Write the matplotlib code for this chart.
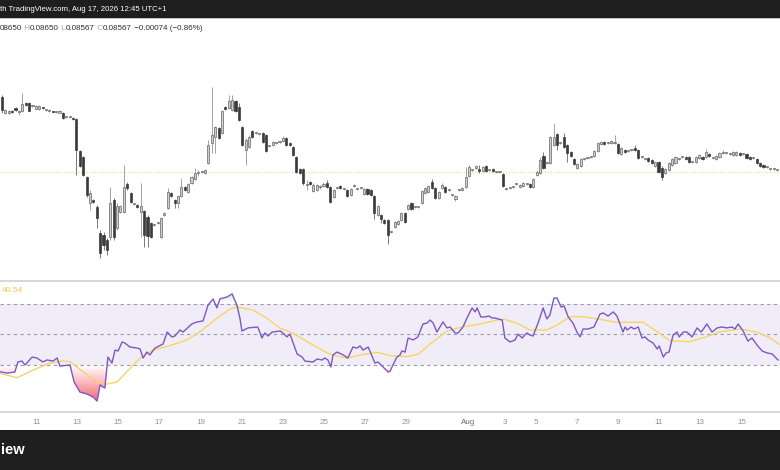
import numpy as np
import matplotlib.pyplot as plt
from matplotlib.patches import Rectangle
from matplotlib.path import Path

W, H = 780, 470

# 4h candles from left to right (price axis is cropped away)
opens = [
    0.0932, 0.0916, 0.0916, 0.0918, 0.0921, 0.0917, 0.0918, 0.0926, 0.0926, 0.0923,
    0.0920, 0.0920, 0.0922, 0.0919, 0.0918, 0.0918, 0.0917, 0.0916, 0.0916, 0.0912,
    0.0912, 0.0911, 0.0910, 0.0878, 0.0872, 0.0852, 0.0826, 0.0829, 0.0822, 0.0796,
    0.0794, 0.0789, 0.0792, 0.0829, 0.0801, 0.0817, 0.0817, 0.0845, 0.0836, 0.0825,
    0.0824, 0.0817, 0.0818, 0.0812, 0.0806, 0.0804, 0.0806, 0.0792, 0.0814, 0.0821,
    0.0836, 0.0829, 0.0826, 0.0833, 0.0842, 0.0837, 0.0846, 0.0850, 0.0856, 0.0857,
    0.0856, 0.0866, 0.0886, 0.0892, 0.0901, 0.0896, 0.0922, 0.0921, 0.0919, 0.0928,
    0.0922, 0.0902, 0.0879, 0.0882, 0.0898, 0.0896, 0.0895, 0.0896, 0.0894, 0.0883,
    0.0884, 0.0886, 0.0887, 0.0888, 0.0891, 0.0886, 0.0882, 0.0872, 0.0860, 0.0860,
    0.0844, 0.0847, 0.0838, 0.0839, 0.0842, 0.0843, 0.0846, 0.0842, 0.0832, 0.0841,
    0.0843, 0.0840, 0.0839, 0.0834, 0.0843, 0.0840, 0.0841, 0.0835, 0.0840, 0.0839,
    0.0833, 0.0814, 0.0814, 0.0809, 0.0809, 0.0797, 0.0802, 0.0805, 0.0809, 0.0816,
    0.0820, 0.0826, 0.0822, 0.0822, 0.0826, 0.0836, 0.0837, 0.0847, 0.0841, 0.0831,
    0.0841, 0.0842, 0.0839, 0.0834, 0.0830, 0.0839, 0.0839, 0.0842, 0.0853, 0.0859,
    0.0861, 0.0860, 0.0858, 0.0863, 0.0859, 0.0860, 0.0857, 0.0857, 0.0855, 0.0840,
    0.0841, 0.0842, 0.0845, 0.0842, 0.0843, 0.0845, 0.0845, 0.0842, 0.0854, 0.0856,
    0.0873, 0.0866, 0.0866, 0.0884, 0.0895, 0.0886, 0.0892, 0.0884, 0.0877, 0.0870,
    0.0861, 0.0863, 0.0870, 0.0871, 0.0872, 0.0873, 0.0878, 0.0885, 0.0887, 0.0886,
    0.0886, 0.0886, 0.0885, 0.0875, 0.0879, 0.0878, 0.0879, 0.0881, 0.0879, 0.0872,
    0.0870, 0.0871, 0.0869, 0.0863, 0.0867, 0.0861, 0.0856, 0.0859, 0.0864, 0.0866,
    0.0870, 0.0872, 0.0872, 0.0872, 0.0867, 0.0867, 0.0871, 0.0872, 0.0872, 0.0875,
    0.0871, 0.0870, 0.0872, 0.0876, 0.0876, 0.0875, 0.0874, 0.0874, 0.0876, 0.0875,
    0.0875, 0.0872, 0.0871, 0.0870, 0.0866, 0.0864, 0.0862, 0.0860, 0.0860, 0.0859,
]
highs = [
    0.0934, 0.0920, 0.0919, 0.0919, 0.0922, 0.0919, 0.0936, 0.0927, 0.0927, 0.0924,
    0.0924, 0.0924, 0.0922, 0.0920, 0.0920, 0.0918, 0.0918, 0.0919, 0.0917, 0.0913,
    0.0913, 0.0912, 0.0911, 0.0879, 0.0873, 0.0853, 0.0839, 0.0830, 0.0824, 0.0799,
    0.0797, 0.0791, 0.0842, 0.0831, 0.0826, 0.0824, 0.0864, 0.0847, 0.0837, 0.0826,
    0.0825, 0.0846, 0.0819, 0.0814, 0.0807, 0.0805, 0.0807, 0.0812, 0.0817, 0.0841,
    0.0837, 0.0830, 0.0834, 0.0851, 0.0843, 0.0846, 0.0853, 0.0861, 0.0859, 0.0858,
    0.0860, 0.0889, 0.0942, 0.0903, 0.0902, 0.0919, 0.0923, 0.0934, 0.0934, 0.0929,
    0.0926, 0.0903, 0.0891, 0.0894, 0.0899, 0.0897, 0.0896, 0.0897, 0.0895, 0.0884,
    0.0888, 0.0887, 0.0888, 0.0893, 0.0892, 0.0887, 0.0883, 0.0873, 0.0861, 0.0861,
    0.0849, 0.0848, 0.0846, 0.0845, 0.0844, 0.0847, 0.0849, 0.0843, 0.0840, 0.0842,
    0.0844, 0.0841, 0.0840, 0.0841, 0.0845, 0.0841, 0.0842, 0.0841, 0.0841, 0.0840,
    0.0834, 0.0824, 0.0815, 0.0810, 0.0810, 0.0798, 0.0808, 0.0809, 0.0817, 0.0817,
    0.0825, 0.0827, 0.0823, 0.0823, 0.0839, 0.0842, 0.0844, 0.0850, 0.0842, 0.0838,
    0.0846, 0.0843, 0.0840, 0.0835, 0.0834, 0.0840, 0.0842, 0.0862, 0.0864, 0.0860,
    0.0864, 0.0864, 0.0863, 0.0864, 0.0860, 0.0861, 0.0858, 0.0858, 0.0856, 0.0841,
    0.0842, 0.0843, 0.0846, 0.0845, 0.0847, 0.0846, 0.0846, 0.0851, 0.0859, 0.0872,
    0.0877, 0.0867, 0.0893, 0.0906, 0.0896, 0.0887, 0.0896, 0.0885, 0.0878, 0.0871,
    0.0866, 0.0871, 0.0871, 0.0872, 0.0873, 0.0879, 0.0887, 0.0888, 0.0888, 0.0887,
    0.0889, 0.0894, 0.0886, 0.0882, 0.0880, 0.0879, 0.0880, 0.0884, 0.0880, 0.0873,
    0.0871, 0.0872, 0.0870, 0.0868, 0.0868, 0.0863, 0.0861, 0.0867, 0.0871, 0.0873,
    0.0871, 0.0873, 0.0873, 0.0873, 0.0868, 0.0873, 0.0875, 0.0873, 0.0880, 0.0876,
    0.0872, 0.0874, 0.0877, 0.0879, 0.0877, 0.0876, 0.0878, 0.0878, 0.0877, 0.0876,
    0.0876, 0.0873, 0.0872, 0.0871, 0.0867, 0.0865, 0.0863, 0.0861, 0.0861, 0.0860,
]
lows = [
    0.0916, 0.0915, 0.0915, 0.0916, 0.0918, 0.0914, 0.0917, 0.0923, 0.0918, 0.0922,
    0.0920, 0.0919, 0.0920, 0.0918, 0.0917, 0.0917, 0.0916, 0.0916, 0.0910, 0.0911,
    0.0911, 0.0909, 0.0854, 0.0862, 0.0853, 0.0832, 0.0819, 0.0826, 0.0801, 0.0771,
    0.0779, 0.0774, 0.0789, 0.0789, 0.0799, 0.0816, 0.0816, 0.0839, 0.0826, 0.0824,
    0.0821, 0.0792, 0.0782, 0.0782, 0.0791, 0.0803, 0.0805, 0.0791, 0.0813, 0.0820,
    0.0832, 0.0821, 0.0821, 0.0832, 0.0838, 0.0836, 0.0845, 0.0849, 0.0853, 0.0856,
    0.0855, 0.0865, 0.0876, 0.0876, 0.0890, 0.0895, 0.0919, 0.0920, 0.0918, 0.0917,
    0.0908, 0.0883, 0.0864, 0.0881, 0.0891, 0.0895, 0.0894, 0.0886, 0.0877, 0.0882,
    0.0883, 0.0885, 0.0886, 0.0887, 0.0883, 0.0883, 0.0873, 0.0856, 0.0855, 0.0844,
    0.0839, 0.0844, 0.0837, 0.0838, 0.0840, 0.0842, 0.0841, 0.0826, 0.0831, 0.0840,
    0.0840, 0.0839, 0.0832, 0.0833, 0.0842, 0.0839, 0.0840, 0.0834, 0.0834, 0.0833,
    0.0810, 0.0813, 0.0806, 0.0805, 0.0785, 0.0796, 0.0801, 0.0804, 0.0808, 0.0806,
    0.0819, 0.0819, 0.0821, 0.0821, 0.0825, 0.0835, 0.0836, 0.0840, 0.0830, 0.0830,
    0.0840, 0.0836, 0.0838, 0.0833, 0.0828, 0.0838, 0.0838, 0.0841, 0.0852, 0.0858,
    0.0860, 0.0856, 0.0857, 0.0857, 0.0858, 0.0857, 0.0856, 0.0856, 0.0842, 0.0839,
    0.0840, 0.0841, 0.0844, 0.0841, 0.0842, 0.0844, 0.0841, 0.0841, 0.0853, 0.0855,
    0.0860, 0.0865, 0.0865, 0.0883, 0.0879, 0.0885, 0.0881, 0.0867, 0.0872, 0.0864,
    0.0860, 0.0862, 0.0869, 0.0870, 0.0871, 0.0872, 0.0877, 0.0884, 0.0884, 0.0885,
    0.0885, 0.0885, 0.0875, 0.0874, 0.0876, 0.0877, 0.0878, 0.0878, 0.0870, 0.0871,
    0.0869, 0.0867, 0.0865, 0.0862, 0.0856, 0.0849, 0.0855, 0.0858, 0.0863, 0.0865,
    0.0869, 0.0871, 0.0869, 0.0866, 0.0866, 0.0866, 0.0870, 0.0869, 0.0871, 0.0872,
    0.0870, 0.0869, 0.0871, 0.0875, 0.0875, 0.0874, 0.0873, 0.0873, 0.0873, 0.0874,
    0.0870, 0.0869, 0.0870, 0.0865, 0.0862, 0.0861, 0.0861, 0.0859, 0.0859, 0.0858,
]
closes = [
    0.0919, 0.0919, 0.0918, 0.0917, 0.0919, 0.0917, 0.0925, 0.0924, 0.0918, 0.0923,
    0.0923, 0.0923, 0.0921, 0.0919, 0.0918, 0.0917, 0.0917, 0.0918, 0.0911, 0.0912,
    0.0912, 0.0910, 0.0879, 0.0863, 0.0854, 0.0834, 0.0836, 0.0827, 0.0811, 0.0776,
    0.0784, 0.0779, 0.0826, 0.0792, 0.0823, 0.0823, 0.0842, 0.0841, 0.0827, 0.0825,
    0.0822, 0.0823, 0.0794, 0.0793, 0.0792, 0.0804, 0.0806, 0.0811, 0.0816, 0.0837,
    0.0833, 0.0826, 0.0833, 0.0842, 0.0839, 0.0845, 0.0852, 0.0856, 0.0856, 0.0857,
    0.0859, 0.0884, 0.0894, 0.0902, 0.0891, 0.0918, 0.0920, 0.0928, 0.0929, 0.0918,
    0.0909, 0.0884, 0.0889, 0.0892, 0.0892, 0.0896, 0.0895, 0.0887, 0.0878, 0.0883,
    0.0887, 0.0886, 0.0887, 0.0891, 0.0884, 0.0884, 0.0874, 0.0857, 0.0856, 0.0846,
    0.0844, 0.0845, 0.0844, 0.0844, 0.0842, 0.0845, 0.0842, 0.0827, 0.0839, 0.0841,
    0.0841, 0.0840, 0.0833, 0.0840, 0.0843, 0.0840, 0.0841, 0.0840, 0.0835, 0.0834,
    0.0816, 0.0823, 0.0810, 0.0806, 0.0794, 0.0797, 0.0807, 0.0808, 0.0816, 0.0807,
    0.0824, 0.0820, 0.0822, 0.0822, 0.0838, 0.0841, 0.0843, 0.0841, 0.0831, 0.0837,
    0.0844, 0.0837, 0.0839, 0.0834, 0.0833, 0.0839, 0.0841, 0.0852, 0.0862, 0.0859,
    0.0863, 0.0858, 0.0862, 0.0858, 0.0859, 0.0858, 0.0857, 0.0857, 0.0843, 0.0840,
    0.0841, 0.0842, 0.0845, 0.0844, 0.0846, 0.0845, 0.0842, 0.0850, 0.0857, 0.0869,
    0.0861, 0.0866, 0.0892, 0.0892, 0.0884, 0.0886, 0.0882, 0.0876, 0.0873, 0.0865,
    0.0865, 0.0870, 0.0870, 0.0871, 0.0872, 0.0878, 0.0886, 0.0887, 0.0885, 0.0886,
    0.0888, 0.0886, 0.0876, 0.0881, 0.0877, 0.0878, 0.0879, 0.0879, 0.0871, 0.0872,
    0.0870, 0.0868, 0.0866, 0.0867, 0.0857, 0.0852, 0.0860, 0.0866, 0.0870, 0.0872,
    0.0870, 0.0872, 0.0870, 0.0867, 0.0867, 0.0872, 0.0874, 0.0870, 0.0877, 0.0873,
    0.0871, 0.0873, 0.0876, 0.0876, 0.0876, 0.0875, 0.0877, 0.0877, 0.0874, 0.0875,
    0.0871, 0.0870, 0.0871, 0.0866, 0.0863, 0.0862, 0.0862, 0.0860, 0.0860, 0.0859,
]
last_close = 0.08567

# RSI(14) and its moving average, positions given in bar units
rsi_x = [
    -0.6, 1.5, 3.8, 4.7, 5.9, 6.8, 8.9, 10.3, 12.1, 13.3,
    15.1, 16.3, 17.1, 20.1, 21.3, 23.0, 25.1, 26.9, 28.1, 29.0,
    29.8, 30.4, 31.3, 32.5, 33.4, 34.3, 35.5, 36.3, 37.8, 39.9,
    40.8, 41.7, 42.8, 43.7, 45.2, 47.6, 48.8, 50.2, 51.1, 52.6,
    53.5, 56.1, 57.6, 59.4, 60.9, 62.4, 63.5, 64.4, 66.5, 68.0,
    69.4, 70.3, 70.9, 72.7, 75.4, 75.7, 76.8, 77.7, 78.6, 79.8,
    82.2, 83.0, 84.2, 85.1, 87.2, 88.7, 89.5, 91.9, 93.1, 94.6,
    95.4, 96.3, 97.2, 97.8, 99.0, 100.8, 102.2, 103.7, 104.9, 105.8,
    106.7, 108.2, 110.2, 111.1, 112.6, 114.1,
    114.7, 115.5, 116.7, 117.6, 118.2, 119.1, 120.0, 121.5, 122.9, 124.4,
    125.6, 126.5, 127.4, 128.5, 130.3, 131.5, 132.4, 133.9, 134.8, 136.2,
    137.4, 138.9, 139.8, 140.4, 141.5, 142.7, 143.9, 144.8, 145.7, 146.6,
    147.8, 148.6, 150.1, 151.6, 152.5, 153.7, 155.1, 156.0, 156.9, 158.4,
    159.9, 161.0, 161.9, 163.1, 164.0, 165.2, 166.1, 167.3, 168.7, 169.9,
    170.8, 171.7, 173.2, 174.9, 176.7, 177.6, 179.1, 180.6, 181.7, 182.6,
    183.5, 184.1, 184.7, 185.9, 186.8, 188.0, 189.1, 190.0, 190.9, 192.4,
    193.6, 194.2, 195.4, 196.2, 197.1, 198.3, 199.5, 200.1, 201.3, 202.4,
    203.9, 205.4, 206.6, 208.3, 209.8, 211.3, 212.8, 214.2, 215.7, 216.6,
    217.5, 219.0, 220.4, 221.6, 223.1, 224.6, 226.1, 227.6, 229.3,
]
rsi_vals = [
    25.6, 24.7, 25.4, 32.0, 32.6, 30.0, 35.2, 34.6, 32.0, 33.3,
    32.6, 34.6, 29.3, 30.0, 18.9, 12.3, 11.0, 9.0, 6.4, 16.9,
    15.6, 14.9, 35.2, 31.3, 39.8, 39.2, 45.1, 44.4, 41.8, 41.1,
    40.5, 34.6, 38.5, 36.6, 41.1, 43.8, 51.6, 48.4, 49.0, 53.0,
    51.6, 56.9, 58.2, 58.9, 69.3, 73.3, 67.4, 73.3, 74.6, 76.6,
    69.3, 60.8, 52.3, 54.3, 54.9, 54.3, 47.7, 51.0, 49.0, 51.6,
    52.3, 51.0, 48.4, 50.3, 37.2, 35.2, 32.6, 32.0, 33.9, 33.3,
    34.6, 33.3, 28.7, 36.6, 38.5, 36.6, 34.6, 41.8, 41.1, 42.5,
    39.8, 41.8, 31.3, 32.0, 28.7, 25.4,
    26.0, 30.0, 35.2, 36.6, 39.2, 38.5, 47.7, 46.4, 48.4, 56.9,
    57.5, 59.5, 57.5, 51.6, 58.2, 54.3, 54.9, 51.0, 51.0, 54.9,
    60.8, 67.4, 64.8, 67.4, 61.5, 61.5, 62.1, 60.8, 60.8, 60.2,
    59.5, 47.7, 45.1, 46.4, 50.3, 47.7, 51.0, 49.7, 49.0, 57.5,
    67.4, 60.2, 62.8, 73.9, 73.9, 68.0, 68.7, 61.5, 57.5, 51.6,
    48.4, 53.6, 53.6, 54.9, 63.4, 64.1, 62.1, 64.8, 62.1, 56.9,
    51.6, 54.9, 53.0, 54.9, 53.6, 54.9, 47.7, 48.4, 46.4, 44.4,
    40.5, 42.5, 35.2, 37.9, 38.5, 49.7, 51.6, 48.4, 51.6, 51.6,
    48.4, 54.3, 51.6, 56.9, 51.6, 54.3, 54.9, 54.3, 54.9, 53.6,
    56.9, 52.3, 45.7, 47.7, 43.1, 39.2, 37.9, 37.2, 33.3,
]
ma_x = [
    -0.6, 4.4, 9.2, 14.2, 18.0, 20.1, 23.9, 28.1, 31.0, 34.0,
    36.9, 40.8, 44.6, 49.6, 54.7, 58.5, 63.5, 67.4, 69.4, 74.2,
    78.3, 82.2, 86.0, 91.9, 96.9, 101.9, 105.8, 110.8, 114.7, 119.7,
    122.9, 127.4, 131.5, 136.2, 141.3, 146.3, 148.6, 152.2, 156.0, 161.0,
    164.0, 167.9, 171.7, 175.8, 181.7, 189.4, 193.6, 197.4, 203.3, 208.3,
    212.2, 218.1, 223.1, 226.9, 229.6,
]
ma_vals = [
    24.5, 21.7, 26.7, 31.3, 32.6, 32.2, 25.6, 19.0, 17.5, 18.9,
    25.6, 34.6, 39.8, 42.7, 46.4, 51.8, 60.6, 66.7, 68.0, 66.0,
    60.6, 54.1, 50.8, 43.1, 37.0, 34.4, 36.6, 38.3, 36.2, 35.5,
    37.0, 45.3, 52.3, 55.1, 56.9, 59.5, 59.9, 57.3, 53.0, 53.0,
    56.2, 61.7, 61.7, 60.2, 58.0, 58.0, 51.8, 45.9, 45.3, 48.6,
    51.8, 53.6, 51.5, 47.9, 43.6,
]
ma_label = '40.54'

# date labels (bar position where each day starts)
tick_pos = [10.1, 22.2, 34.3, 46.4, 58.8, 70.9, 83.0, 95.2, 107.3, 119.4,
            137.7, 148.6, 157.8, 169.9, 182.0, 194.1, 206.3, 218.7]
tick_labels = ['11', '13', '15', '17', '19', '21', '23', '25', '27', '29',
               'Aug', '3', '5', '7', '9', '11', '13', '15']

header = 'th TradingView.com, Aug 17, 2026 12:45 UTC+1'
footer = 'iew'
ohlc_parts = [('08650', 'v'), (' H', 'k'), ('0.08650', 'v'), (' L', 'k'),
              ('0.08567', 'v'), (' C', 'k'), ('0.08567', 'v'),
              (' \u22120.00074 (\u22120.86%)', 'v')]

plt.rcParams['font.family'] = ['Liberation Sans', 'DejaVu Sans']


def fy(y):
    return 1 - y / H


fig = plt.figure(figsize=(W / 100, H / 100), dpi=100)
fig.patch.set_facecolor('white')

# dark bars at top and bottom
fig.add_artist(Rectangle((0, fy(17.5)), 1, 17.5 / H, transform=fig.transFigure,
                         color='#1e1e1e', lw=0))
fig.add_artist(Rectangle((0, fy(19)), 1, 1.5 / H, transform=fig.transFigure,
                         color='#c4c4c4', lw=0))
fig.add_artist(Rectangle((0, 0), 1, 40 / H, transform=fig.transFigure,
                         color='#1e1e1e', lw=0))
fig.text(0.0, fy(9.5), header, color='white', fontsize=5.6, va='center', ha='left')
fig.text(1 / W, fy(450), footer, color='white', fontsize=10.5,
         fontweight='bold', va='center', ha='left')

x0, x1 = -0.59, 229.89

# ---- main price pane ----
ax = fig.add_axes([0, fy(280), 1, (280 - 19) / H])

# OHLC legend, pieces chained left to right
prev = ax.annotate(ohlc_parts[0][0], xy=(0, fy(28)), xycoords='figure fraction',
                   color='#2a2e39', fontsize=5.8, va='center', ha='left',
                   annotation_clip=False)
for txt, kind in ohlc_parts[1:]:
    prev = ax.annotate(txt, xy=(1, 0), xycoords=prev, va='bottom', ha='left',
                       fontsize=5.8, annotation_clip=False,
                       color='#2a2e39' if kind == 'v' else '#a3a6af')

o = np.array(opens)
hi = np.array(highs)
lo = np.array(lows)
c = np.array(closes)
x = np.arange(len(o))
up = c >= o
body = np.maximum(np.abs(c - o), 0.00009)
bottom = np.minimum(o, c)

ax.vlines(x[up], lo[up], hi[up], color='#a3a3a3', lw=0.7, zorder=1)
ax.vlines(x[~up], lo[~up], hi[~up], color='#7a7a7a', lw=0.7, zorder=1)
ax.bar(x[up], body[up], bottom=bottom[up], width=0.62, color='#cdcdcd',
       edgecolor='#666666', linewidth=0.5, zorder=2)
ax.bar(x[~up], body[~up], bottom=bottom[~up], width=0.62, color='#3b3b3b',
       edgecolor='#3b3b3b', linewidth=0.5, zorder=2)
ax.axhline(last_close, color='#e9d98c', lw=0.8, ls=(0, (1, 1.5)), zorder=0)
ax.set_xlim(x0, x1)
ax.set_ylim(0.0749, 0.1010)
ax.axis('off')

# pane separators
for yy in (281, 412):
    fig.add_artist(Rectangle((0, fy(yy + 0.8)), 1, 1.6 / H, transform=fig.transFigure,
                             color='#d6d8de', lw=0))

# ---- RSI pane ----
ax2 = fig.add_axes([0, fy(412), 1, (412 - 282) / H])
rx = np.array(rsi_x)
rv = np.array(rsi_vals)

ax2.axhspan(30, 70, color='#7e57c2', alpha=0.1, lw=0, zorder=0)
for lvl in (70, 50, 30):
    ax2.axhline(lvl, color='#9a9ca6', lw=0.8, ls=(0, (3, 3)), zorder=1)


def gradient_fill(mask, level, far, rgb, amax):
    coll = ax2.fill_between(rx, rv, level, where=mask, interpolate=True,
                            facecolor='none', edgecolor='none')
    paths = coll.get_paths()
    if not paths:
        return
    clip = Path.make_compound_path(*paths)
    n = 200
    grad = np.zeros((n, 1, 4))
    grad[:, 0, :3] = rgb
    lo_v, hi_v = min(level, far), max(level, far)
    if far < level:
        grad[:, 0, 3] = np.linspace(amax, 0, n)
    else:
        grad[:, 0, 3] = np.linspace(0, amax, n)
    im = ax2.imshow(grad, extent=[rx.min(), rx.max(), lo_v, hi_v], origin='lower',
                    aspect='auto', zorder=1.5, interpolation='bilinear')
    im.set_clip_path(clip, transform=ax2.transData)


gradient_fill(rv < 30, 30, 0, (0.95, 0.21, 0.27), 0.95)
gradient_fill(rv > 70, 70, 100, (0.03, 0.60, 0.51), 0.9)

ax2.plot(ma_x, ma_vals, color='#f5d565', lw=1.0, zorder=2)
ax2.plot(rx, rv, color='#7e57c2', lw=1.0, zorder=3)
fig.text(2 / W, fy(291), ma_label, color='#f2c94c', fontsize=6, va='center', ha='left')

ax2.set_xlim(x0, x1)
ax2.set_ylim(-0.8, 84.4)
for s in ax2.spines.values():
    s.set_visible(False)
ax2.set_yticks([])
ax2.set_xticks(tick_pos)
ax2.set_xticklabels(tick_labels)
ax2.tick_params(axis='x', length=0, pad=5, labelsize=5.8, labelcolor='#8f929b')
for lab in ax2.get_xticklabels():
    if lab.get_text() == 'Aug':
        lab.set_color('#6a6d78')

fig.savefig('out.png', dpi=100)
